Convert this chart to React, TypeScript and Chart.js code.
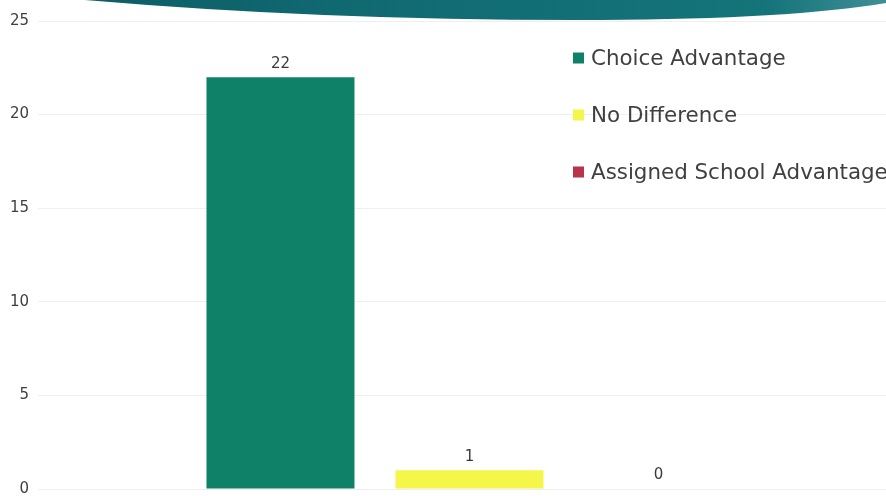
import React, { useEffect, useRef } from "react";
import { Chart, registerables } from "chart.js";

Chart.register(...registerables);

// ---- data ----
const seriesNames = ["Choice Advantage", "No Difference", "Assigned School Advantage"];
const seriesValues = [22, 1, 0];
const seriesSlots = [1, 2, 3];
const seriesColors = ["#0f8169", "#f5f64a", "#b8344b"];
const yMin = 0;
const yMax = 25;
const yStep = 5;

const FONT = "'DejaVu Sans', 'Liberation Sans', sans-serif";

const swooshPlugin = {
  id: "swoosh",
  beforeDraw(chart: any) {
    const { ctx, width } = chart;
    ctx.save();
    const g = ctx.createLinearGradient(85, 0, width, 0);
    g.addColorStop(0, "#0d5e66");
    g.addColorStop(0.4, "#116b73");
    g.addColorStop(0.85, "#147479");
    g.addColorStop(1, "#3f8f96");
    ctx.fillStyle = g;
    ctx.beginPath();
    ctx.moveTo(85, 0);
    ctx.quadraticCurveTo(330, 21, 600, 20);
    ctx.quadraticCurveTo(790, 19, width, 3);
    ctx.lineTo(width, 0);
    ctx.closePath();
    ctx.fill();
    ctx.restore();
  },
};

const valueLabelPlugin = {
  id: "valueLabels",
  afterDatasetsDraw(chart: any) {
    const { ctx } = chart;
    ctx.save();
    ctx.font = `15px ${FONT}`;
    ctx.fillStyle = "#3a3a3a";
    ctx.textAlign = "center";
    ctx.textBaseline = "middle";
    chart.data.datasets.forEach((ds: any, i: number) => {
      const meta = chart.getDatasetMeta(i);
      meta.data.forEach((el: any, j: number) => {
        const v = ds.data[j].y;
        ctx.fillText(String(v), el.x, el.y - 13.5);
      });
    });
    ctx.restore();
  },
};

const legendPlugin = {
  id: "overlayLegend",
  afterDraw(chart: any) {
    const { ctx } = chart;
    const x0 = 573;
    const y0 = 58;
    const rowGap = 57;
    const box = 11;
    ctx.save();
    ctx.font = `21.4px ${FONT}`;
    ctx.textBaseline = "middle";
    ctx.textAlign = "left";
    chart.data.datasets.forEach((ds: any, i: number) => {
      const cy = y0 + i * rowGap;
      ctx.fillStyle = ds.backgroundColor;
      ctx.fillRect(x0, cy - box / 2, box, box);
      ctx.fillStyle = "#404040";
      ctx.fillText(ds.label, x0 + 18, cy + 1);
    });
    ctx.restore();
  },
};

export default function App() {
  const ref = useRef<HTMLCanvasElement | null>(null);

  useEffect(() => {
    if (!ref.current) return;
    const chart = new Chart(ref.current, {
      type: "bar",
      data: {
        datasets: seriesNames.map((name, i) => ({
          label: name,
          data: [{ x: seriesSlots[i], y: seriesValues[i] }],
          backgroundColor: seriesColors[i],
          borderWidth: 0,
          inflateAmount: 0,
          barThickness: 148,
          grouped: false,
        })),
      },
      options: {
        responsive: false,
        animation: false,
        layout: { padding: { top: 21, bottom: 7, left: 0, right: 0 } },
        plugins: {
          legend: { display: false },
          tooltip: { enabled: false },
        },
        scales: {
          x: {
            type: "linear",
            display: false,
            offset: false,
            min: -0.283,
            max: 4.204,
          },
          y: {
            min: yMin,
            max: yMax,
            border: { display: false },
            grid: { color: "#efefef", drawTicks: false },
            ticks: {
              stepSize: yStep,
              padding: 9,
              color: "#404040",
              font: { family: FONT, size: 15, lineHeight: 1 },
            },
            afterFit(scale: any) {
              scale.width = 38;
              scale.paddingTop = 0;
              scale.paddingBottom = 0;
            },
          },
        },
      },
      plugins: [swooshPlugin, valueLabelPlugin, legendPlugin],
    } as any);
    return () => chart.destroy();
  }, []);

  return (
    <div style={{ position: "fixed", left: 0, top: 0, width: 886, height: 496, background: "#fff" }}>
      <canvas ref={ref} width={886} height={496} style={{ display: "block" }} />
    </div>
  );
}
